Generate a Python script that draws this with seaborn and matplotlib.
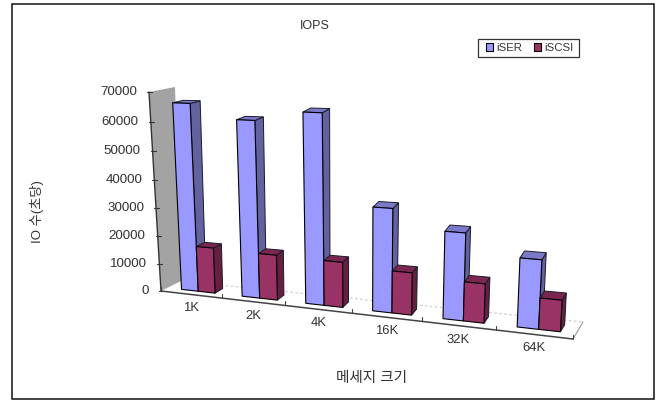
import numpy as np
import pandas as pd
import matplotlib
matplotlib.use("Agg")
import matplotlib.pyplot as plt
from matplotlib.patches import Polygon, Rectangle
from matplotlib.transforms import Transform
import seaborn as sns

# Measurements
sizes = ["1K", "2K", "4K", "16K", "32K", "64K"]
iser = [66000, 61200, 64600, 35000, 28900, 22400]
iscsi = [16300, 15900, 15600, 14300, 13000, 10200]
value_ticks = [0, 10000, 20000, 30000, 40000, 50000, 60000, 70000]

V_MAX = 70000
U_MIN, U_MAX = -0.5, 5.5
BAR_W0, BAR_W1 = 0.32, 0.74   # depth span of the bars inside the floor
BAR_SHIFT = 0.02              # bars sit slightly right of the category centre

COLORS = {"iSER": ("#9999FF", "#62629F", "#7A7AC8"),
          "iSCSI": ("#993366", "#641F42", "#7A2650")}


def homography(src, dst):
    """3x3 planar projective map from four point pairs."""
    rows, rhs = [], []
    for (x, y), (X, Y) in zip(src, dst):
        rows.append([x, y, 1, 0, 0, 0, -X * x, -X * y])
        rows.append([0, 0, 0, x, y, 1, -Y * x, -Y * y])
        rhs += [X, Y]
    return np.append(np.linalg.solve(np.array(rows, float), np.array(rhs, float)), 1).reshape(3, 3)


plane_src = [(U_MIN, 0), (U_MIN, V_MAX), (U_MAX, 0), (U_MAX, V_MAX)]
H_FRONT = homography(plane_src, [(161, 291), (149, 92), (573, 339), (586, 110)])
H_BACK = homography(plane_src, [(181, 281), (175, 87), (583, 322), (596, 93)])


def apply_h(h, pts):
    pts = np.atleast_2d(pts)
    q = np.c_[pts, np.ones(len(pts))] @ h.T
    return q[:, :2] / q[:, 2:]


def project(u, v, w=0.0):
    """Chart coordinates (category, value, depth 0..1) to canvas pixels."""
    p = np.array([[u, v]], float)
    return ((1 - w) * apply_h(H_FRONT, p) + w * apply_h(H_BACK, p))[0]


class DepthPlane(Transform):
    input_dims = output_dims = 2
    is_separable = False
    has_inverse = False

    def __init__(self, w, shift=0.0):
        super().__init__()
        self.w = w
        self.shift = shift

    def transform_non_affine(self, values):
        pts = np.array(values, float)
        pts[:, 0] += self.shift
        return (1 - self.w) * apply_h(H_FRONT, pts) + self.w * apply_h(H_BACK, pts)


sns.set_theme(style="white")
plt.rcParams["font.family"] = ["Liberation Sans", "Noto Sans CJK KR", "DejaVu Sans"]

df = pd.DataFrame({
    "size": sizes * 2,
    "iops": iser + iscsi,
    "series": ["iSER"] * len(sizes) + ["iSCSI"] * len(sizes),
})

fig = plt.figure(figsize=(6.62, 4.0), dpi=100, facecolor="white")
ax = fig.add_axes([0, 0, 1, 1])
sns.barplot(data=df, x="size", y="iops", hue="series", order=sizes,
            hue_order=["iSER", "iSCSI"], palette={k: v[0] for k, v in COLORS.items()},
            width=0.56, gap=0, saturation=1, edgecolor="black", linewidth=0.8, ax=ax)
handles, labels = ax.get_legend_handles_labels()
ax.set_xlim(0, 662)
ax.set_ylim(400, 0)
ax.axis("off")

# Canvas border
ax.add_patch(Rectangle((12, 4), 642, 395, fill=False, ec="#111111", lw=1.1, zorder=0.2))

# Left wall and floor outline
ax.add_patch(Polygon([project(U_MIN, 0, 0), project(U_MIN, V_MAX, 0),
                      project(U_MIN, V_MAX, 1), project(U_MIN, 0, 1)],
                     closed=True, fc="#A3A3A3", ec="none", zorder=0.5))
back_l, back_r = project(U_MIN, 0, 1), project(U_MAX, 0, 1)
ax.plot([back_l[0], back_r[0]], [back_l[1], back_r[1]], color="#CFCFCF", lw=0.9,
        ls=(0, (2, 2)), zorder=0.6)
front_r = project(U_MAX, 0, 0)
ax.plot([front_r[0], back_r[0]], [front_r[1], back_r[1]], color="#999999", lw=0.8, zorder=0.6)

# Value axis with ticks and labels
axis_pts = np.array([project(U_MIN, v, 0) for v in (0, V_MAX)])
ax.plot(axis_pts[:, 0], axis_pts[:, 1], color="#333333", lw=1.0, zorder=0.8)
for v in value_ticks:
    x, y = project(U_MIN, v, 0)
    ax.plot([x - 2, x + 3], [y, y], color="#333333", lw=0.8, zorder=0.8)
    ax.text(x - 12, y, f"{v}", ha="right", va="center", fontsize=9.6, color="#333333")

# Category axis with ticks and labels
base_pts = np.array([project(U_MIN, 0, 0), project(U_MAX, 0, 0)])
ax.plot(base_pts[:, 0], base_pts[:, 1], color="#444444", lw=1.1, zorder=0.8)
for i in range(len(sizes) + 1):
    x, y = project(U_MIN + i, 0, 0)
    ax.plot([x, x], [y, y - 4], color="#444444", lw=0.8, zorder=0.8)
for i, name in enumerate(sizes):
    x, y = project(i, 0, 0)
    ax.text(x, y + 14, name, ha="center", va="center", fontsize=9.4, color="#333333")

# Bars: the seaborn rectangles become front faces; sides and tops follow their geometry
front_transform = DepthPlane(BAR_W0, BAR_SHIFT) + ax.transData
order = 0
for cat in range(len(sizes)):
    for container, name in zip(ax.containers, ["iSER", "iSCSI"]):
        bar = container[cat]
        x0 = bar.get_x() + BAR_SHIFT
        x1 = x0 + bar.get_width()
        v = bar.get_height()
        _, side_c, top_c = COLORS[name]
        base_z = 2 + order * 0.1
        ax.add_patch(Polygon([project(x1, 0, BAR_W0), project(x1, v, BAR_W0),
                              project(x1, v, BAR_W1), project(x1, 0, BAR_W1)],
                             closed=True, fc=side_c, ec="#1A1A2A", lw=0.7, zorder=base_z))
        ax.add_patch(Polygon([project(x0, v, BAR_W0), project(x1, v, BAR_W0),
                              project(x1, v, BAR_W1), project(x0, v, BAR_W1)],
                             closed=True, fc=top_c, ec="#1A1A2A", lw=0.7, zorder=base_z + 0.01))
        bar.set_transform(front_transform)
        bar.set_clip_on(False)
        bar.set_zorder(base_z + 0.02)
        order += 1

# Titles
ax.text(315, 26, "IOPS", ha="center", va="center", fontsize=9, color="#333333")
ax.text(372, 378, "메세지 크기", ha="center", va="center", fontsize=10.5, color="#333333")
ax.text(37, 212, "IO 수(초당)", ha="center", va="center", rotation=90, fontsize=9.5, color="#333333")

# Legend: frame drawn separately so its size is independent of the entries
ax.add_patch(Rectangle((478, 39), 101, 18, fc="white", ec="#333333", lw=0.9, zorder=4.9))
leg = ax.legend(handles, labels, loc="center", bbox_to_anchor=(530, 48),
                bbox_transform=ax.transData, ncol=2, frameon=False, fontsize=8.2,
                handlelength=0.6, handleheight=0.6, handletextpad=0.3, columnspacing=1.0,
                borderpad=0, borderaxespad=0, labelcolor="#333333")
leg.set_zorder(5)

fig.savefig("out.png", dpi=100, facecolor="white")
